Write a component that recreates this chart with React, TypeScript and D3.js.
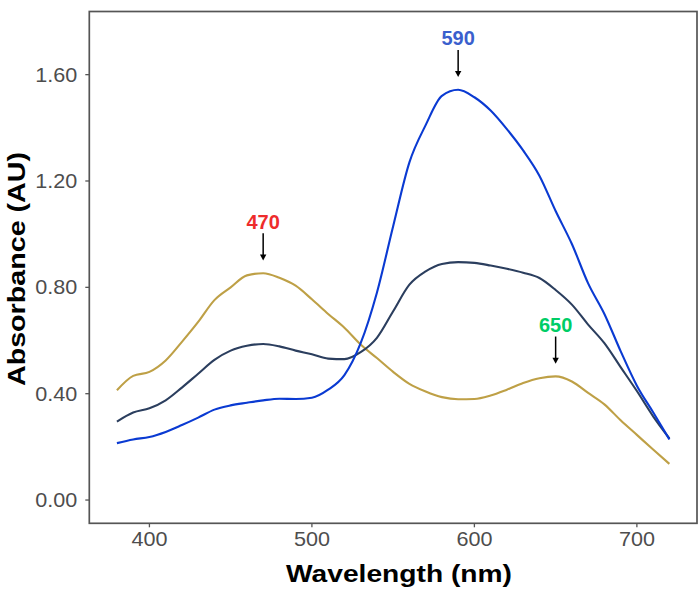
import React from 'react';
import * as d3 from 'd3';

// wavelength grid (nm) and absorbance
const wavelength = [
  380, 390, 400, 410, 420, 430, 440, 450, 460, 470, 480, 490, 500, 510, 520, 530, 540, 550,
  560, 570, 580, 590, 600, 610, 620, 630, 640, 650, 660, 670, 680, 690, 700, 710, 720,
];
const goldSeries = [
  0.413, 0.467, 0.482, 0.525, 0.595, 0.67, 0.752, 0.8, 0.845, 0.853, 0.836, 0.806, 0.755, 0.7,
  0.648, 0.585, 0.534, 0.482, 0.437, 0.408, 0.387, 0.379, 0.38, 0.393, 0.415, 0.44, 0.458, 0.465,
  0.446, 0.403, 0.36, 0.3, 0.245, 0.19, 0.136,
];
const navySeries = [
  0.295, 0.329, 0.345, 0.375, 0.423, 0.475, 0.527, 0.562, 0.58, 0.587, 0.578, 0.562, 0.548, 0.532,
  0.53, 0.556, 0.61, 0.71, 0.81, 0.86, 0.888, 0.895, 0.892, 0.882, 0.87, 0.855, 0.835, 0.79, 0.735,
  0.66, 0.59, 0.5, 0.41, 0.315, 0.232,
];
const blueSeries = [
  0.214, 0.228, 0.237, 0.256, 0.282, 0.31, 0.34, 0.356, 0.366, 0.375, 0.381, 0.38, 0.385, 0.415,
  0.47, 0.59, 0.78, 1.03, 1.27, 1.41, 1.52, 1.543, 1.515, 1.465, 1.395, 1.315, 1.22, 1.087, 0.963,
  0.815, 0.7, 0.56, 0.43, 0.33, 0.228,
];
const seriesColors = ['#BEA046', '#2B3E5E', '#0A3AD2'];

const xTicks = [400, 500, 600, 700];
const yTicks = [0, 0.4, 0.8, 1.2, 1.6];

// peak annotations: wavelength, label, colour, which series it points at
const peakWavelengths = [470, 590, 650];
const peakLabels = ['470', '590', '650'];
const peakColors = ['#EE2C2C', '#3A5FCD', '#00CD66'];
const peakSeries = [goldSeries, blueSeries, goldSeries];

const W = 699;
const H = 597;
const left = 89.3;
const right = 697;
const top = 11.5;
const bottom = 523.3;
const FONT = "'Liberation Sans', Arial, Helvetica, sans-serif";

export default function App() {
  const x = d3.scaleLinear().domain([363, 737]).range([left, right]);
  const y = d3.scaleLinear().domain([-0.0875, 1.8375]).range([bottom, top]);

  const line = d3
    .line<number>()
    .x((_, i) => x(wavelength[i]))
    .y((d) => y(d))
    .curve(d3.curveMonotoneX);

  const series = [goldSeries, navySeries, blueSeries];

  return (
    <svg
      width={W}
      height={H}
      style={{ position: 'absolute', left: 0, top: 0, background: '#fff' }}
      fontFamily={FONT}
    >
      <rect x={0} y={0} width={W} height={H} fill="#fff" />

      {series.map((s, i) => (
        <path key={i} d={line(s) || ''} fill="none" stroke={seriesColors[i]} strokeWidth={2.1} strokeLinejoin="round" />
      ))}

      {/* peak arrows and labels */}
      {peakWavelengths.map((wl, i) => {
        const idx = wavelength.indexOf(wl);
        const peak = peakSeries[i][idx];
        const px = x(wl);
        const y0 = y(peak + 0.15);
        const y1 = y(peak + 0.048);
        return (
          <g key={wl}>
            <line x1={px} x2={px} y1={y0} y2={y1 - 4} stroke="#000" strokeWidth={1.5} />
            <path d={`M${px - 3.2},${y1 - 6} L${px + 3.2},${y1 - 6} L${px},${y1} Z`} fill="#000" />
            <text
              x={px}
              y={y(peak + 0.195) + 7.2}
              textAnchor="middle"
              fontSize={20}
              fontWeight="bold"
              fill={peakColors[i]}
            >
              {peakLabels[i]}
            </text>
          </g>
        );
      })}

      {/* panel border */}
      <rect x={left} y={top} width={right - left} height={bottom - top} fill="none" stroke="#555" strokeWidth={1.7} />

      {/* y axis */}
      {yTicks.map((t) => (
        <g key={t}>
          <line x1={left - 4} x2={left} y1={y(t)} y2={y(t)} stroke="#555" strokeWidth={1.3} />
          <text
            transform={`translate(${left - 12},${y(t) + 7.1}) scale(1.08,1)`}
            textAnchor="end"
            fontSize={20}
            fill="#4D4D4D"
          >
            {d3.format('.2f')(t)}
          </text>
        </g>
      ))}

      {/* x axis */}
      {xTicks.map((t) => (
        <g key={t}>
          <line x1={x(t)} x2={x(t)} y1={bottom} y2={bottom + 4} stroke="#555" strokeWidth={1.3} />
          <text
            transform={`translate(${x(t)},${546}) scale(1.08,1)`}
            textAnchor="middle"
            fontSize={20}
            fill="#4D4D4D"
          >
            {t}
          </text>
        </g>
      ))}

      <text
        transform={`translate(399,582) scale(1.15,1)`}
        textAnchor="middle"
        fontSize={24.5}
        fontWeight="bold"
        fill="#000"
      >
        Wavelength (nm)
      </text>
      <text
        transform={`translate(25,269) rotate(-90) scale(1.17,1)`}
        textAnchor="middle"
        fontSize={24.5}
        fontWeight="bold"
        fill="#000"
      >
        Absorbance (AU)
      </text>
    </svg>
  );
}
